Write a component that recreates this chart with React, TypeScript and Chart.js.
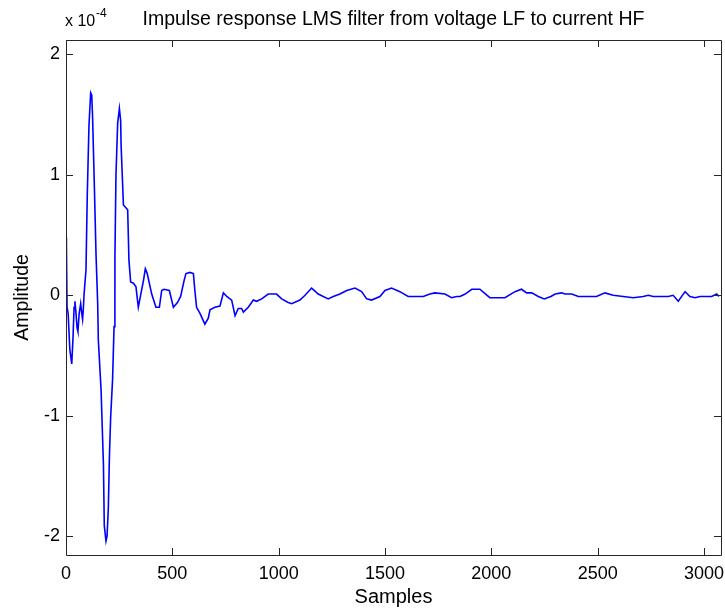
import React, { useEffect, useRef } from "react";
import { Chart, registerables } from "chart.js";

Chart.register(...registerables);

// Impulse response, amplitude in units of 1e-4
const samples: number[] = [
  0, 2, 5, 10, 18, 27, 33, 38, 42, 47, 52, 56, 62, 69, 74, 78, 82, 85,
  94, 100, 108, 116, 121, 125, 133, 141, 149, 152, 165, 176, 180, 188, 193, 199, 204, 210, 219, 226,
  230, 235, 243, 251, 257, 259, 270, 290, 296, 304, 317, 329, 340, 353, 364, 373, 382, 403, 423, 439,
  450, 461, 486, 505, 524, 539, 555, 564, 583, 599, 606, 614, 630, 653, 669, 677, 700, 724, 740, 756,
  779, 795, 810, 826, 834, 857, 881, 896, 920, 951, 990, 1014, 1045, 1061, 1100, 1124, 1155, 1186,
  1233, 1257, 1288, 1320, 1359, 1390, 1414, 1437, 1476, 1500, 1531, 1570, 1609, 1680, 1711, 1735,
  1782, 1813, 1837, 1853, 1877, 1908, 1946, 1993, 2064, 2111, 2142, 2166, 2190, 2221, 2249, 2280,
  2300, 2331, 2346, 2378, 2409, 2495, 2534, 2573, 2620, 2667, 2714, 2738, 2761, 2832, 2855, 2879,
  2911, 2934, 2958, 2981, 3036, 3060, 3070,
];
const amplitudeE4: number[] = [
  0.48, 0.4, -0.1, -0.15, -0.45, -0.57, -0.35, -0.1, -0.05, -0.15, -0.27, -0.3, -0.15, -0.07, -0.15, -0.2, -0.1, 0.01,
  0.21, 0.83, 1.41, 1.68, 1.66, 1.48, 0.93, 0.35, -0.07, -0.37, -0.79, -1.4, -1.91, -2.04, -2.0, -1.77, -1.35, -1.01, -0.7, -0.26,
  0.32, 1.0, 1.43, 1.55, 1.45, 1.25, 0.75, 0.71, 0.29, 0.11, 0.1, 0.07, -0.1, 0.02, 0.12, 0.22, 0.18, 0.01, -0.1, -0.1,
  0.04, 0.05, 0.04, -0.1, -0.06, -0.01, 0.12, 0.18, 0.19, 0.18, 0.04, -0.1, -0.15, -0.24, -0.19, -0.12, -0.1, -0.09, 0.02, -0.01,
  -0.04, -0.17, -0.11, -0.11, -0.14, -0.1, -0.04, -0.05, -0.03, 0.01, 0.01, -0.03, -0.06, -0.07, -0.04, 0.0, 0.06, 0.01,
  -0.03, -0.01, 0.01, 0.04, 0.06, 0.03, -0.03, -0.04, -0.01, 0.04, 0.06, 0.03, -0.01, -0.01, 0.01, 0.02,
  0.01, -0.02, -0.01, -0.01, 0.01, 0.05, 0.05, -0.02, -0.02, 0.03, 0.05, 0.02, 0.02, -0.01, -0.03, -0.01,
  0.01, 0.02, 0.01, 0.01, -0.01, -0.01, 0.02, 0.0, -0.01, -0.02, -0.01, 0.0, -0.01, -0.01, 0.0, -0.05,
  0.03, -0.01, -0.02, -0.01, -0.01, 0.01, -0.01,
];
const xTickValues: number[] = [0, 500, 1000, 1500, 2000, 2500, 3000];
const yTickValues: number[] = [-2, -1, 0, 1, 2];
const xLimits: number[] = [0, 3080];
const yLimits: number[] = [-2.156, 2.119];
const titleText = "Impulse response LMS filter from voltage LF to current HF";
const xLabel = "Samples";
const yLabel = "Amplitude";

const FONT = '"Liberation Sans", Arial, sans-serif';

const framePlugin = {
  id: "matlabFrame",
  afterDatasetsDraw(chart: any) {
    const { ctx, chartArea, scales } = chart;
    const { left, right, top, bottom } = chartArea;
    ctx.save();
    ctx.strokeStyle = "#262626";
    ctx.lineWidth = 1;
    ctx.beginPath();
    ctx.rect(Math.round(left) + 0.5, Math.round(top) + 0.5, Math.round(right - left), Math.round(bottom - top));
    ctx.stroke();
    const tl = 7;
    ctx.beginPath();
    for (const v of xTickValues) {
      const x = Math.round(scales.x.getPixelForValue(v)) + 0.5;
      ctx.moveTo(x, bottom);
      ctx.lineTo(x, bottom - tl);
      ctx.moveTo(x, top);
      ctx.lineTo(x, top + tl);
    }
    for (const v of yTickValues) {
      const y = Math.round(scales.y.getPixelForValue(v)) + 0.5;
      ctx.moveTo(left, y);
      ctx.lineTo(left + tl, y);
      ctx.moveTo(right, y);
      ctx.lineTo(right - tl, y);
    }
    ctx.stroke();
    ctx.restore();
  },
  afterDraw(chart: any) {
    const { ctx, chartArea } = chart;
    const { left, right, top, bottom } = chartArea;
    const cx = (left + right) / 2;
    const cy = (top + bottom) / 2;
    ctx.save();
    ctx.fillStyle = "#000";
    ctx.font = `19.5px ${FONT}`;
    ctx.textAlign = "center";
    ctx.textBaseline = "alphabetic";
    ctx.fillText(titleText, cx, 25);
    ctx.textAlign = "left";
    ctx.font = `16px ${FONT}`;
    ctx.fillText("x 10", left - 1, 26);
    ctx.font = `12px ${FONT}`;
    ctx.fillText("-4", left + 30, 17);
    ctx.font = `20px ${FONT}`;
    ctx.textAlign = "center";
    ctx.fillText(xLabel, cx, 603);
    ctx.font = `19.5px ${FONT}`;
    ctx.translate(28, cy);
    ctx.rotate(-Math.PI / 2);
    ctx.fillText(yLabel, 0, 0);
    ctx.restore();
  },
};

export default function App() {
  const ref = useRef<HTMLCanvasElement | null>(null);
  useEffect(() => {
    if (!ref.current) return;
    const points = samples.map((s, i) => ({ x: s, y: amplitudeE4[i] }));
    const chart = new Chart(ref.current, {
      type: "line",
      data: {
        datasets: [
          {
            data: points,
            borderColor: "#0000FF",
            borderWidth: 1.6,
            pointRadius: 0,
            tension: 0,
            fill: false,
          },
        ],
      },
      options: {
        animation: false,
        responsive: false,
        devicePixelRatio: 1,
        layout: { padding: { top: 40, right: 4, left: 0, bottom: 0 } },
        plugins: { legend: { display: false }, tooltip: { enabled: false }, title: { display: false } },
        scales: {
          x: {
            type: "linear",
            min: xLimits[0],
            max: xLimits[1],
            grid: { display: false, drawTicks: false },
            border: { display: false },
            afterBuildTicks: (scale: any) => {
              scale.ticks = xTickValues.map((v) => ({ value: v }));
            },
            afterFit: (scale: any) => {
              scale.height = 56;
              scale.paddingLeft = 0;
              scale.paddingRight = 0;
            },
            ticks: {
              padding: 8,
              maxRotation: 0,
              autoSkip: false,
              color: "#000",
              font: { family: FONT, size: 18 },
              callback: (v: any) => String(v),
            },
          },
          y: {
            type: "linear",
            min: yLimits[0],
            max: yLimits[1],
            grid: { display: false, drawTicks: false },
            border: { display: false },
            afterBuildTicks: (scale: any) => {
              scale.ticks = yTickValues.map((v) => ({ value: v }));
            },
            afterFit: (scale: any) => {
              scale.width = 66;
              scale.paddingTop = 0;
              scale.paddingBottom = 0;
            },
            ticks: {
              padding: 6,
              autoSkip: false,
              color: "#000",
              font: { family: FONT, size: 18 },
              callback: (v: any) => String(Math.round(v)),
            },
          },
        },
      },
      plugins: [framePlugin],
    });
    return () => chart.destroy();
  }, []);
  return (
    <div style={{ position: "fixed", left: 0, top: 0, width: 725, height: 611, background: "#fff" }}>
      <canvas ref={ref} width={725} height={611} style={{ display: "block" }} />
    </div>
  );
}
